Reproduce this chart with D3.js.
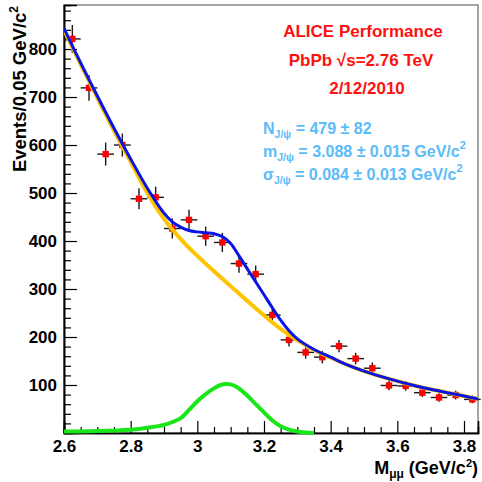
<!DOCTYPE html>
<html><head><meta charset="utf-8">
<script src="https://cdn.jsdelivr.net/npm/d3@7"></script>
<style>
html,body{margin:0;padding:0;background:#fff;}
svg{display:block;font-family:"Liberation Sans",Arial,sans-serif;font-weight:bold;}
</style></head>
<body><svg id="c" width="482" height="482"></svg>
<script>
// ---- data ----
const binCenters = [2.625,2.675,2.725,2.775,2.825,2.875,2.925,2.975,3.025,3.075,3.125,3.175,3.225,3.275,3.325,3.375,3.425,3.475,3.525,3.575,3.625,3.675,3.725,3.775,3.825];
const counts     = [821,719,581,600,488,491,426,444,410,397,353,331,246,194,168,158,181,155,135,99,98,84,74,79,70];
const countErrs  = [29,27,24,24,22,22,21,21,20,20,19,18,16,14,13,13,13,12,12,10,10,9,9,9,8];
const binHalfWidth = 0.025;

const bkgX = [2.6,2.65,2.7,2.75,2.8,2.85,2.9,2.95,3.0,3.05,3.1,3.15,3.2,3.25,3.3,3.35,3.4,3.45,3.5,3.55,3.6,3.65,3.7,3.75,3.8,3.842];
const bkgY = [840,768,698,630,565,500,446,404,369,337,306,275,245,217,193,173,157,142,129,118,108,99,91,84,77,71];

const totX = [2.6,2.65,2.7,2.75,2.8,2.85,2.9,2.925,2.95,2.975,3.0,3.025,3.05,3.075,3.1,3.125,3.15,3.175,3.2,3.225,3.25,3.275,3.3,3.35,3.4,3.45,3.5,3.55,3.6,3.65,3.7,3.75,3.8,3.842];
const totY = [843,771,702,635,571,510,458,440,429,422,419,417,415,409,395,369,342,315,288,261,235,213,196,174,158,142,129,118,108,99,91,84,77,71];

const sigX = [2.6,2.7,2.8,2.85,2.9,2.95,2.975,3.0,3.025,3.05,3.07,3.088,3.11,3.13,3.15,3.175,3.2,3.225,3.25,3.275,3.3,3.325,3.35];
const sigY = [3,4,7,11,17,31,48,66,81,93,100,102,99,90,78,60,43,26,14,7,3,1,0];

const xTicks = [2.6,2.8,3.0,3.2,3.4,3.6,3.8];
const xTickLabels = ["2.6","2.8","3","3.2","3.4","3.6","3.8"];
const yTicks = [100,200,300,400,500,600,700,800];
const yTickLabels = ["100","200","300","400","500","600","700","800"];

// ---- chart ----
const svg = d3.select("#c");
const L = 64, R = 478, T = 5, B = 433;
const x = d3.scaleLinear().domain([2.6, 3.842]).range([L, R]);
const y = d3.scaleLinear().domain([0, 891.7]).range([B, T]);

// frame
svg.append("rect").attr("x", L).attr("y", T).attr("width", R - L).attr("height", B - T)
  .attr("fill", "#fff").attr("stroke", "#6a6a6a").attr("stroke-width", 1.2);

// x axis
const xMinor = d3.range(2.6, 3.84, 0.05).map(v => +v.toFixed(3));
const gx = svg.append("g").attr("transform", `translate(0,${B})`);
gx.call(d3.axisBottom(x).tickValues(xMinor).tickSize(-6).tickFormat(""));
gx.call(g => g.selectAll(".tick").filter(d => xTicks.some(t => Math.abs(t - d) < 1e-6)).remove());
const gxM = svg.append("g").attr("transform", `translate(0,${B})`)
  .call(d3.axisBottom(x).tickValues(xTicks).tickSize(-12).tickPadding(19)
    .tickFormat((d, i) => xTickLabels[i]));
[gx, gxM].forEach(g => {
  g.select(".domain").attr("stroke", "#000").attr("stroke-width", 1.6);
  g.selectAll(".tick line").attr("stroke", "#000").attr("stroke-width", 1.2);
});
gxM.selectAll(".tick text").attr("font-size", 17).attr("font-family", "Liberation Sans, Arial, sans-serif")
  .attr("font-weight", "bold").attr("fill", "#000").attr("dy", "0");

// y axis
const yMinor = d3.range(20, 891, 20);
const gy = svg.append("g").attr("transform", `translate(${L},0)`);
gy.call(d3.axisLeft(y).tickValues(yMinor.filter(v => v % 100 !== 0)).tickSize(-7).tickFormat(""));
const gyM = svg.append("g").attr("transform", `translate(${L},0)`)
  .call(d3.axisLeft(y).tickValues(yTicks).tickSize(-13).tickPadding(7)
    .tickFormat((d, i) => yTickLabels[i]));
[gy, gyM].forEach(g => {
  g.select(".domain").attr("stroke", "#000").attr("stroke-width", 1.6);
  g.selectAll(".tick line").attr("stroke", "#000").attr("stroke-width", 1.2);
});
gyM.selectAll(".tick text").attr("font-size", 17).attr("font-family", "Liberation Sans, Arial, sans-serif")
  .attr("font-weight", "bold").attr("fill", "#000");

// axis titles
const yt = svg.append("text").attr("transform", `translate(26,${T + 1}) rotate(-90)`)
  .attr("text-anchor", "end").attr("font-size", 18.5).attr("fill", "#000");
yt.append("tspan").text("Events/0.05 GeV/c");
yt.append("tspan").attr("font-size", 12).attr("dy", -8).text("2");

const xt = svg.append("text").attr("x", 478).attr("y", 474)
  .attr("text-anchor", "end").attr("font-size", 18).attr("fill", "#000");
xt.append("tspan").text("M");
xt.append("tspan").attr("font-size", 12).attr("dy", 4).text("μμ");
xt.append("tspan").attr("dy", -4).text(" (GeV/c");
xt.append("tspan").attr("font-size", 11).attr("dy", -7).text("2");
xt.append("tspan").attr("dy", 7).text(")");

// data points with error bars
const pts = binCenters.map((m, i) => ({m, c: counts[i], e: countErrs[i]}));
const eb = svg.append("g").attr("stroke", "#1a1a1a").attr("stroke-width", 1.4);
eb.selectAll(".h").data(pts).join("line")
  .attr("x1", d => x(d.m - binHalfWidth)).attr("x2", d => x(d.m + binHalfWidth))
  .attr("y1", d => y(d.c)).attr("y2", d => y(d.c));
eb.selectAll(".v").data(pts).join("line")
  .attr("x1", d => x(d.m)).attr("x2", d => x(d.m))
  .attr("y1", d => y(d.c - d.e)).attr("y2", d => y(d.c + d.e));
svg.append("g").selectAll("rect").data(pts).join("rect")
  .attr("x", d => x(d.m) - 3.2).attr("y", d => y(d.c) - 3.2)
  .attr("width", 6.4).attr("height", 6.4).attr("fill", "#ff0000");

// fit curves
const line = d3.line().x(d => x(d[0])).y(d => y(d[1])).curve(d3.curveCatmullRom.alpha(0.5));
svg.append("clipPath").attr("id", "pl").append("rect")
  .attr("x", L).attr("y", T).attr("width", R - L).attr("height", B - T + 3);
const curves = svg.append("g").attr("clip-path", "url(#pl)").attr("fill", "none");
curves.append("path").attr("d", line(bkgX.map((v, i) => [v, bkgY[i]])))
  .attr("stroke", "#ffc400").attr("stroke-width", 4);
curves.append("path").attr("d", line(totX.map((v, i) => [v, totY[i]])))
  .attr("stroke", "#0a14e6").attr("stroke-width", 3);
curves.append("path").attr("d", line(sigX.map((v, i) => [v, sigY[i]])))
  .attr("stroke", "#19e619").attr("stroke-width", 4);

// red labels
const red = [["ALICE Performance", 363, 37], ["PbPb \u221As=2.76 TeV", 361, 66], ["2/12/2010", 367, 94]];
svg.append("g").selectAll("text").data(red).join("text")
  .attr("x", d => d[1]).attr("y", d => d[2]).attr("text-anchor", "middle")
  .attr("font-size", 17).attr("fill", "#ff1010").text(d => d[0]);

// fit results
const blue = "#5bbcf8";
const fitLines = [
  {sym: "N", val: " = 479 \u00B1 82", unit: false, yy: 134},
  {sym: "m", val: " = 3.088 \u00B1 0.015 GeV/c", unit: true, yy: 157},
  {sym: "\u03C3", val: " = 0.084 \u00B1 0.013 GeV/c", unit: true, yy: 180}
];
fitLines.forEach(f => {
  const t = svg.append("text").attr("x", 263).attr("y", f.yy).attr("font-size", 16).attr("fill", blue);
  t.append("tspan").text(f.sym);
  t.append("tspan").attr("font-size", 10.5).attr("dy", 4).text("J/\u03C8");
  t.append("tspan").attr("dy", -4).text(f.val);
  if (f.unit) t.append("tspan").attr("font-size", 11).attr("dy", -8).text("2");
});
</script></body></html>
